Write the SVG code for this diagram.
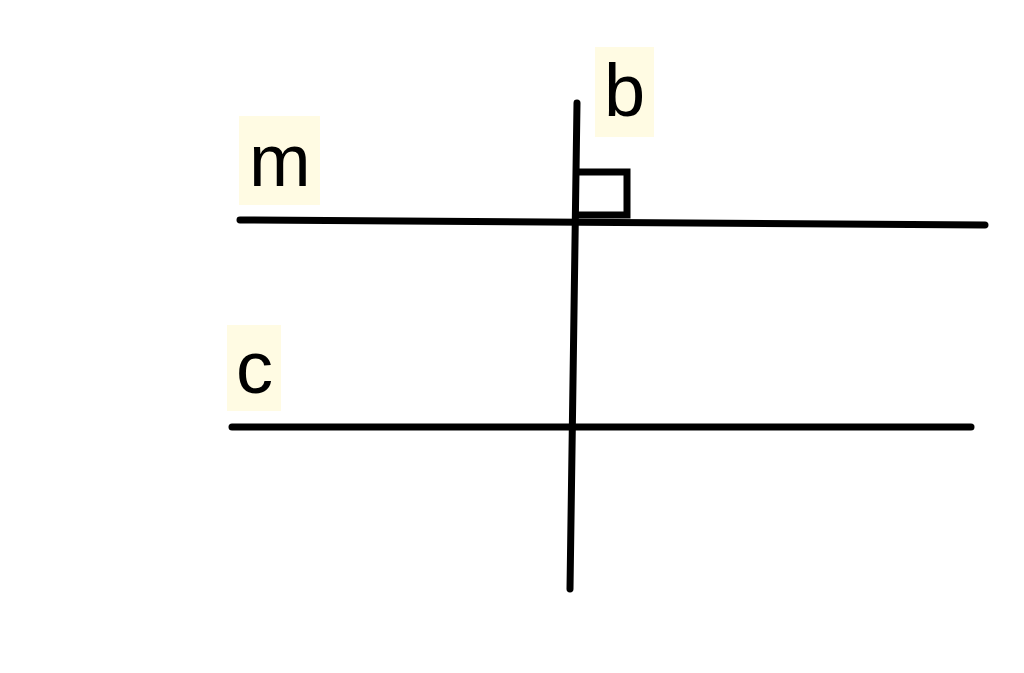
<svg xmlns="http://www.w3.org/2000/svg" width="1024" height="673" viewBox="0 0 1024 673">
<style>
.ln{stroke:#000;stroke-width:7;stroke-linecap:round;fill:none}
.lbl{fill:#fffbe3}
.t{font-family:"Liberation Sans",Arial,sans-serif;font-size:74px;fill:#000}
</style>
<rect width="1024" height="673" fill="#fff"/>
<g id="connectors">
<line class="ln" x1="240" y1="220" x2="985" y2="225"/>
<line class="ln" x1="232" y1="427" x2="971" y2="427"/>
<line class="ln" x1="577" y1="103" x2="570" y2="589"/>
<path class="ln" d="M577 172 H627 V215 H577" stroke-linecap="butt"/>
</g>
<g id="label-m">
<rect class="lbl" x="239" y="116" width="81" height="89"/>
<text class="t" x="249" y="186">m</text>
</g>
<g id="label-b">
<rect class="lbl" x="595" y="47" width="59" height="90"/>
<text class="t" x="604" y="116">b</text>
</g>
<g id="label-c">
<rect class="lbl" x="227" y="325" width="54" height="86"/>
<text class="t" x="236" y="393">c</text>
</g>
</svg>
